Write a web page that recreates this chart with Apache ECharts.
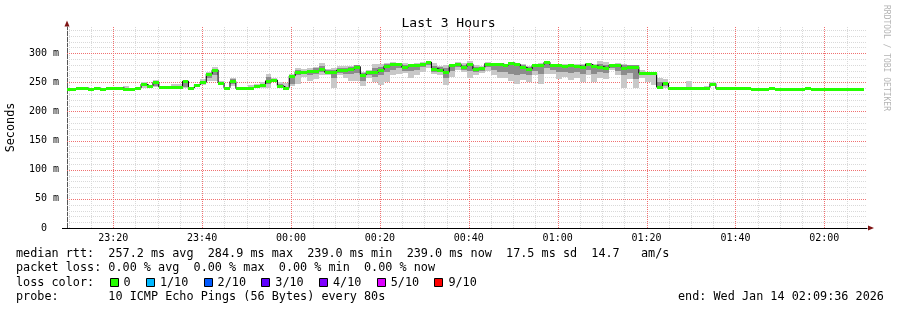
<!DOCTYPE html>
<html><head><meta charset="utf-8">
<script src="https://cdn.jsdelivr.net/npm/echarts@6/dist/echarts.min.js"></script>
<style>html,body{margin:0;padding:0;background:#fff}#c{width:897px;height:310px}</style>
</head><body><div id="c"></div>
<script>
// ---------- data ----------
const chartTitle = 'Last 3 Hours';
const startSec = 576;    // 23:09:36 expressed as seconds after 23:00:00
const endSec = 11376;    // 02:09:36
const stepSec = 80;      // one ping round every 80 s

// median rtt per 80 s step (ms)
const median = [
 239.0,239.0,240.5,240.5,239.0,240.5,239.0,240.5,240.5,240.5,
 239.0,239.0,240.5,247.0,244.0,250.0,242.0,242.0,242.0,242.0,
 252.0,240.5,246.0,250.0,264.5,271.5,249.0,240.5,251.5,239.5,
 240.0,241.0,243.0,245.7,252.6,254.0,244.0,241.0,261.0,268.6,
 267.0,269.5,270.0,273.0,267.0,267.0,271.0,271.0,272.6,277.0,
 263.0,267.0,267.0,271.4,278.3,281.0,281.7,276.0,279.0,280.0,
 282.3,284.9,273.7,272.0,267.4,279.0,281.0,276.6,281.7,273.0,
 275.4,282.3,282.3,282.3,280.0,283.4,281.0,276.0,273.0,279.0,
 280.0,284.6,280.0,279.0,278.3,279.0,278.3,277.0,281.7,278.3,
 277.0,275.4,280.0,280.0,275.4,277.0,277.0,265.7,265.7,265.7,
 241.7,248.6,239.5,239.5,239.5,241.0,240.0,240.0,241.0,248.0,
 239.5,239.5,239.5,239.5,239.5,239.5,239.2,239.0,239.0,239.5,
 239.0,239.0,239.0,239.0,239.0,239.5,239.0,239.0,239.0,239.0,
 239.0,239.0,239.0,239.0,239.0
];
// outer smoke (fastest .. slowest ping), null = hidden under the median
const smokeLo = [
 null,null,null,null,null,null,null,null,null,null,
 239,null,null,241,242,242,null,241,241,241,
 240,null,242,246,253,253,246,null,244,null,
 null,241,241,241,241,251,241,241,244,248,
 260,253,255,263,263,240,262,258,252,252,
 243,258,250,246,250,262,265,266,258,262,
 268,275,265,262,245,260,271,268,258,262,
 266,269,262,257,258,252,248,254,250,262,
 248,265,264,255,260,254,258,250,262,250,
 258,255,271,262,240,255,240,258,250,245,
 240,240,null,null,null,240,null,null,240,243,
 null,null,null,null,null,null,null,null,null,null,
 null,null,null,null,null,null,null,null,null,null,
 null,null,null,null,null
];
const smokeHi = [
 null,null,null,null,null,null,null,null,null,null,
 243,null,null,250,246,254,null,244,247,247,
 253,null,248,255,268,276,253,null,258,null,
 null,245,247,251,265,258,250,249,264,274,
 273,274,277,283,273,275,278,278,278,280,
 268,272,282,281,283,285,283,283,282,284,
 285,286,283,278,280,282,285,283,286,280,
 278,285,284,283,282,284,284,282,278,281,
 284,286,282,281,281,281,281,282,284,281,
 286,285,282,283,282,280,280,272,268,268,
 258,256,null,null,null,252,null,null,243,250,
 null,null,null,null,null,null,null,null,null,null,
 null,null,null,null,null,null,null,null,null,null,
 null,null,null,null,null
];
// inner (darker) smoke
const coreLo = [
 null,null,null,null,null,null,null,null,null,null,
 null,null,null,243,null,244,null,null,null,null,
 242,null,null,248,258,263,null,null,248,null,
 null,null,null,243,247,null,242,null,248,262,
 264,262,264,268,265,258,266,265,264,266,
 252,262,260,262,268,272,275,270,270,272,
 276,280,268,267,258,270,276,272,270,267,
 270,276,272,268,268,265,262,265,262,270,
 264,275,271,268,268,266,268,264,272,265,
 268,266,274,270,262,266,255,262,null,null,
 241,243,null,null,null,null,null,null,null,null,
 null,null,null,null,null,null,null,null,null,null,
 null,null,null,null,null,null,null,null,null,null,
 null,null,null,null,null
];
const coreHi = [
 null,null,null,null,null,null,null,null,null,null,
 null,null,null,248,null,251,null,null,null,null,
 252,null,null,252,266,273,null,null,255,null,
 null,null,null,248,259,null,248,null,262,272,
 270,272,274,278,271,271,275,275,276,279,
 266,270,275,277,281,283,283,280,281,282,
 284,285.5,278,276,274,281,283,280,284,277,
 277,284,283,283,281,284,282,279,276,280,
 282,285.5,281,280,280,280,280,280,283,280,
 282,280,281,282,279,279,279,268,null,null,
 250,250,null,null,null,null,null,null,null,null,
 null,null,null,null,null,null,null,null,null,null,
 null,null,null,null,null,null,null,null,null,null,
 null,null,null,null,null
];

const xTickValues = [1200,2400,3600,4800,6000,7200,8400,9600,10800];
const xTickLabels = ['23:20','23:40','00:00','00:20','00:40','01:00','01:20','01:40','02:00'];
const xMinorValues = [600,900,1500,1800,2100,2700,3000,3300,3900,4200,4500,5100,5400,5700,
  6300,6600,6900,7500,7800,8100,8700,9000,9300,9900,10200,10500,11100];
const yTickValues = [0,50,100,150,200,250,300];
const yTickLabels = ['0  ','50 m','100 m','150 m','200 m','250 m','300 m'];
const yMinorValues = [10,20,30,40,60,70,80,90,110,120,130,140,160,170,180,190,210,220,230,240,
  260,270,280,290,310,320,330,340];
const yMax = 345;

const lossNames = ['0','1/10','2/10','3/10','4/10','5/10','9/10'];
const lossColors = ['#26ff00','#00b8ff','#0059ff','#5e00ff','#7e00ff','#dd00ff','#ff0000'];
const statLine1 = 'median rtt:  257.2 ms avg  284.9 ms max  239.0 ms min  239.0 ms now  17.5 ms sd  14.7   am/s';
const statLine2 = 'packet loss: 0.00 % avg  0.00 % max  0.00 % min  0.00 % now';
const statLine3 = 'loss color:';
const statLine4 = 'probe:       10 ICMP Echo Pings (56 Bytes) every 80s';
const endText = 'end: Wed Jan 14 02:09:36 2026';
const sideText = 'RRDTOOL / TOBI OETIKER';

// ---------- chart ----------
const MONO = 'DejaVu Sans Mono';
const LFONT = '11.8px "' + MONO + '"';
const G = {left: 67, top: 27, right: 30, bottom: 82};
const chart = echarts.init(document.getElementById('c'), null, {renderer: 'canvas'});

const tOf = i => startSec + i * stepSec;
const medianData = median.map((v, i) => [tOf(i), v]);
const outerData = [], coreData = [];
median.forEach((v, i) => {
  if (smokeLo[i] != null) outerData.push([tOf(i), smokeLo[i], smokeHi[i]]);
  if (coreLo[i] != null) coreData.push([tOf(i), coreLo[i], coreHi[i]]);
});

function bandRender(params, api) {
  const t = api.value(0), lo = api.value(1), hi = api.value(2);
  const p1 = api.coord([t - stepSec / 2, hi]);
  const p2 = api.coord([t + stepSec / 2, lo]);
  const x1 = Math.round(p1[0]), x2 = Math.round(p2[0]);
  const y1 = Math.round(p1[1]), y2 = Math.round(p2[1]);
  const cs = params.coordSys;
  const shape = echarts.graphic.clipRectByRect(
    {x: x1, y: y1, width: x2 - x1, height: Math.max(1, y2 - y1)},
    {x: cs.x, y: cs.y, width: cs.width, height: cs.height});
  return shape && {type: 'rect', shape: shape, style: {fill: api.visual('color'), stroke: null}};
}
function medianRender(params, api) {
  const t = api.value(0), v = api.value(1);
  const p1 = api.coord([t - stepSec / 2, v]);
  const p2 = api.coord([t + stepSec / 2, v]);
  const x1 = Math.round(p1[0]), x2 = Math.round(p2[0]);
  const cy = Math.round(p1[1]);
  const cs = params.coordSys;
  const shape = echarts.graphic.clipRectByRect(
    {x: x1, y: cy - 1, width: x2 - x1, height: 3},
    {x: cs.x, y: cs.y, width: cs.width, height: cs.height});
  return shape && {type: 'rect', shape: shape, style: {fill: api.visual('color'), stroke: null}};
}
// crisp dotted grid lines, positioned through the axes
function gridRender(dir, color) {
  return function (params, api) {
    const v = api.value(0);
    const cs = params.coordSys;
    let shape;
    if (dir === 'x') {
      const x = Math.round(api.coord([v, 0])[0]) + 0.5;
      shape = {x1: x, y1: cs.y, x2: x, y2: cs.y + cs.height};
    } else {
      const y = Math.round(api.coord([startSec, v])[1]) + 0.5;
      shape = {x1: cs.x, y1: y, x2: cs.x + cs.width, y2: y};
    }
    return {type: 'line', shape: shape,
      style: {stroke: color, fill: null, lineWidth: 1, lineDash: [1, 1], opacity: 1}};
  };
}
const xMinorData = xMinorValues.map(v => [v]);
const yMinorData = yMinorValues.map(v => [v]);
const xMajorData = xTickValues.map(v => [v]);
const yMajorData = yTickValues.filter(v => v > 0).map(v => [v]);

// legend graphics
const cw = 7.1;
const graphics = [];
const rowY = [254, 268.3, 282.5, 296.7];
[statLine1, statLine2, statLine3, statLine4].forEach((s, k) => {
  graphics.push({type: 'text', x: 16, y: rowY[k], style: {text: s, font: LFONT, fill: '#000', verticalAlign: 'middle'}});
});
graphics.push({type: 'text', x: 678, y: rowY[3], style: {text: endText, font: LFONT, fill: '#000', verticalAlign: 'middle'}});
let bx = 109.5;
lossNames.forEach((n, k) => {
  graphics.push({type: 'rect', shape: {x: Math.round(bx) + 0.5, y: 278.5, width: 8, height: 8},
    style: {fill: lossColors[k], stroke: '#000', lineWidth: 1}});
  graphics.push({type: 'text', x: bx + 14, y: rowY[2], style: {text: n, font: LFONT, fill: '#000', verticalAlign: 'middle'}});
  bx += 29.3 + cw * n.length;
});
graphics.push({type: 'text', x: 886, y: 5, rotation: -Math.PI / 2,
  style: {text: sideText, font: '8px "' + MONO + '"', fill: '#b4b4b4', verticalAlign: 'middle'}});
// axis arrows
graphics.push({type: 'polygon', shape: {points: [[64.5, 26.5], [69.5, 26.5], [67, 20.5]]}, style: {fill: '#7f1414'}});
graphics.push({type: 'polygon', shape: {points: [[868, 225.5], [868, 230.5], [874, 228]]}, style: {fill: '#7f1414'}});
graphics.push({type: 'line', shape: {x1: 62, y1: 228.5, x2: 67, y2: 228.5}, style: {stroke: '#000', lineWidth: 1}});

const gridSeries = (data, dir, color) => ({type: 'custom', data: data, silent: true, z: 1,
  itemStyle: {color: color}, encode: dir === 'x' ? {x: 0} : {y: 0}, renderItem: gridRender(dir, color)});

chart.setOption({
  animation: false,
  backgroundColor: '#ffffff',
  title: {text: chartTitle, left: 'center', top: 12,
    textStyle: {fontFamily: MONO, fontSize: 13, fontWeight: 'normal', color: '#000'}},
  grid: {left: G.left, top: G.top, right: G.right, bottom: G.bottom, containLabel: false, outerBoundsMode: 'none'},
  xAxis: {
    type: 'value', min: startSec, max: endSec,
    axisLine: {show: true, onZero: false, lineStyle: {color: '#000', width: 1}},
    axisTick: {show: false}, splitLine: {show: false},
    axisLabel: {customValues: xTickValues, margin: 5, fontFamily: MONO, fontSize: 10, color: '#000',
      formatter: v => { const k = xTickValues.indexOf(v); return k >= 0 ? xTickLabels[k] : ''; }}
  },
  yAxis: {
    type: 'value', min: 0, max: yMax, interval: 50,
    axisLine: {show: true, lineStyle: {color: '#555', width: 1}},
    axisTick: {show: false}, splitLine: {show: false},
    axisLabel: {margin: 8, fontFamily: MONO, fontSize: 10, color: '#000',
      formatter: v => { const k = yTickValues.indexOf(v); return k >= 0 ? yTickLabels[k] : ''; }},
    name: 'Seconds', nameLocation: 'middle', nameGap: 50,
    nameTextStyle: {fontFamily: MONO, fontSize: 11.8, color: '#000'}
  },
  series: [
    gridSeries(xMinorData, 'x', '#d9d9d9'),
    gridSeries(yMinorData, 'y', '#d9d9d9'),
    gridSeries(xMajorData, 'x', '#f07070'),
    gridSeries(yMajorData, 'y', '#f07070'),
    {type: 'custom', name: 'smoke', data: outerData, encode: {x: 0, y: [1, 2]}, itemStyle: {color: '#c8c8c8'}, renderItem: bandRender, z: 2, silent: true},
    {type: 'custom', name: 'smokecore', data: coreData, encode: {x: 0, y: [1, 2]}, itemStyle: {color: '#8c8c8c'}, renderItem: bandRender, z: 3, silent: true},
    {type: 'line', name: 'median', data: medianData, step: 'middle', symbol: 'none',
      lineStyle: {color: '#000', width: 1}, z: 4, silent: true},
    {type: 'custom', name: 'loss 0', data: medianData, encode: {x: 0, y: 1}, itemStyle: {color: lossColors[0]}, renderItem: medianRender, z: 5, silent: true}
  ],
  graphic: graphics
});
</script></body></html>
